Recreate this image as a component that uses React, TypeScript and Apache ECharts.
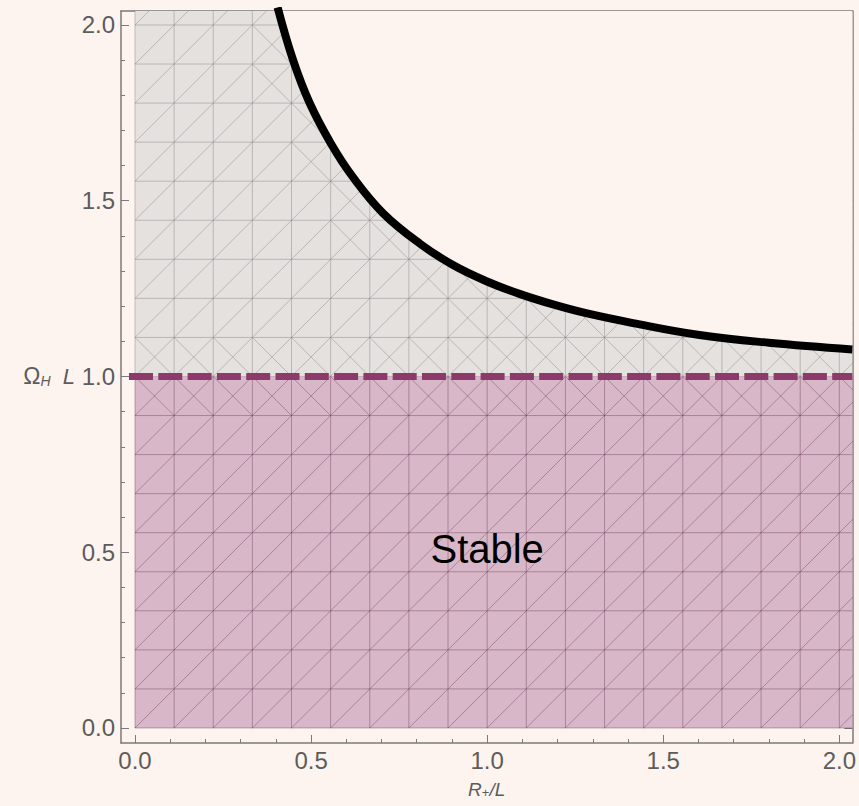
import React, { useEffect, useRef } from "react";
import * as echarts from "echarts";

// Boundary curve: horizon radius R+/L against critical Ω_H L
const curveR = [0.405, 0.449, 0.496, 0.558, 0.619, 0.704, 0.809, 0.903, 0.998, 1.092, 1.187, 1.281, 1.414, 1.603, 1.8, 2.037];
const curveOmega = [2.05, 1.9, 1.778, 1.66, 1.567, 1.465, 1.378, 1.317, 1.271, 1.235, 1.205, 1.18, 1.152, 1.118, 1.096, 1.077];

// Ω_H L = 1 bound
const boundOmega = 1.0;
const boundStartR = -0.017;

const xMajorTicks = [0, 0.5, 1, 1.5, 2];
const xMinorTicks = [0.1, 0.2, 0.3, 0.4, 0.6, 0.7, 0.8, 0.9, 1.1, 1.2, 1.3, 1.4, 1.6, 1.7, 1.8, 1.9];
const yMajorTicks = [0, 0.5, 1, 1.5, 2];
const yMinorTicks = [0.1, 0.2, 0.3, 0.4, 0.6, 0.7, 0.8, 0.9, 1.1, 1.2, 1.3, 1.4, 1.6, 1.7, 1.8, 1.9];

const stableLabel = { r: 1.0, omega: 0.51, text: "Stable" };

const X_RANGE = [-0.0397, 2.0369];
const Y_RANGE = [-0.0427, 2.0398];
const MESH_STEP = 1 / 9;

const BG = "#fdf4ef";
const GRAY_FILL = "#e4e1df";
const PINK_FILL = "#d8b8c8";
const GRAY_MESH = "rgba(120,112,112,0.38)";
const PINK_MESH = "rgba(95,45,75,0.38)";
const BOUND_COLOR = "#8b3a6b";
const FRAME = "#7a7a7a";
const LABEL_COLOR = "#5c5c5c";
const FONT = "'Liberation Sans', Arial, sans-serif";

function curveAt(x: number): number {
  if (x < curveR[0]) return Infinity;
  for (let i = 1; i < curveR.length; i++) {
    if (x <= curveR[i]) {
      const t = (x - curveR[i - 1]) / (curveR[i] - curveR[i - 1]);
      return curveOmega[i - 1] + t * (curveOmega[i] - curveOmega[i - 1]);
    }
  }
  return curveOmega[curveOmega.length - 1];
}

// Triangulated mesh segments [x1, y1, x2, y2] for the two shaded regions
function buildMesh() {
  const gray: number[][] = [];
  const pink: number[][] = [];
  const d = MESH_STEP;
  const xMax = X_RANGE[1];
  const yMax = Y_RANGE[1];
  const nx = Math.ceil(xMax / d);
  const ny = Math.ceil(yMax / d);
  for (let i = 0; i <= nx; i++) {
    const x = i * d;
    if (x > xMax) break;
    pink.push([x, 0, x, boundOmega]);
    gray.push([x, boundOmega, x, yMax]);
  }
  for (let j = 0; j <= ny; j++) {
    const y = j * d;
    if (y > yMax) break;
    if (j < 9) pink.push([0, y, xMax, y]);
    else gray.push([0, y, xMax, y]);
  }
  for (let i = 0; i < nx; i++) {
    for (let j = 0; j < ny; j++) {
      const x0 = i * d;
      const y0 = j * d;
      const inPink = j < 9;
      const target = inPink ? pink : gray;
      target.push([x0, y0, x0 + d, y0 + d]);
      let cross = j === 8 || j === 9;
      if (!inPink) {
        const cLeft = curveAt(x0);
        const cRight = curveAt(Math.min(x0 + d, xMax));
        if (y0 < cLeft && y0 + d > cRight - 0.6 * d) cross = true;
      }
      if (cross) target.push([x0, y0 + d, x0 + d, y0]);
    }
  }
  return { gray, pink };
}

function meshSeries(data: number[][], color: string) {
  return {
    type: "custom",
    silent: true,
    clip: true,
    encode: { x: [0, 2], y: [1, 3] },
    data,
    renderItem: (_p: any, api: any) => {
      const a = api.coord([api.value(0), api.value(1)]);
      const b = api.coord([api.value(2), api.value(3)]);
      return {
        type: "line",
        shape: { x1: a[0], y1: a[1], x2: b[0], y2: b[1] },
        style: { stroke: color, lineWidth: 1, fill: null },
      };
    },
  };
}

function xAxes(position: "bottom" | "top", labels: boolean) {
  return [
    {
      type: "value",
      position,
      min: X_RANGE[0],
      max: X_RANGE[1],
      axisLine: { show: true, onZero: false, lineStyle: { color: FRAME, width: 1.5 } },
      axisTick: { show: true, inside: true, length: 8, customValues: xMajorTicks, lineStyle: { color: FRAME, width: 1 } },
      axisLabel: {
        show: labels,
        customValues: xMajorTicks,
        formatter: (v: number) => v.toFixed(1),
        color: LABEL_COLOR,
        fontSize: 24,
        fontFamily: FONT,
        margin: 5,
      },
      splitLine: { show: false },
      ...(labels
        ? {
            name: "{i|R}{s|+}{i|/L}",
            nameLocation: "middle",
            nameGap: 37,
            nameTextStyle: {
              color: LABEL_COLOR,
              rich: {
                i: { fontSize: 19, fontStyle: "italic", fontFamily: FONT, color: LABEL_COLOR, lineHeight: 19 },
                s: { fontSize: 13, fontFamily: FONT, color: LABEL_COLOR, verticalAlign: "bottom", lineHeight: 6 },
              },
            },
          }
        : {}),
    },
    {
      type: "value",
      position,
      min: X_RANGE[0],
      max: X_RANGE[1],
      axisLine: { show: false, onZero: false },
      axisTick: { show: true, inside: true, length: 4, customValues: xMinorTicks, lineStyle: { color: FRAME, width: 1 } },
      axisLabel: { show: false },
      splitLine: { show: false },
    },
  ];
}

function yAxes(position: "left" | "right", labels: boolean) {
  return [
    {
      type: "value",
      position,
      min: Y_RANGE[0],
      max: Y_RANGE[1],
      axisLine: { show: true, onZero: false, lineStyle: { color: FRAME, width: 1.5 } },
      axisTick: { show: true, inside: true, length: 8, customValues: yMajorTicks, lineStyle: { color: FRAME, width: 1 } },
      axisLabel: {
        show: labels,
        customValues: yMajorTicks,
        formatter: (v: number) =>
          Math.abs(v - boundOmega) < 1e-9 ? "{o|Ω}{h|H}{l|  L} " + v.toFixed(1) : v.toFixed(1),
        color: LABEL_COLOR,
        fontSize: 24,
        fontFamily: FONT,
        lineHeight: 24,
        margin: 6,
        rich: {
          o: { fontSize: 23, fontFamily: FONT, color: LABEL_COLOR, lineHeight: 24 },
          h: { fontSize: 14, fontStyle: "italic", fontFamily: FONT, color: LABEL_COLOR, verticalAlign: "bottom", lineHeight: 6 },
          l: { fontSize: 22, fontStyle: "italic", fontFamily: FONT, color: LABEL_COLOR, lineHeight: 24 },
        },
      },
      splitLine: { show: false },
    },
    {
      type: "value",
      position,
      min: Y_RANGE[0],
      max: Y_RANGE[1],
      axisLine: { show: false, onZero: false },
      axisTick: { show: true, inside: true, length: 4, customValues: yMinorTicks, lineStyle: { color: FRAME, width: 1 } },
      axisLabel: { show: false },
      splitLine: { show: false },
    },
  ];
}

export default function App() {
  const ref = useRef<HTMLDivElement>(null);

  useEffect(() => {
    if (!ref.current) return;
    const chart = echarts.init(ref.current, null, { renderer: "svg" });
    const mesh = buildMesh();
    const regions = [
      [0, 0, X_RANGE[1], boundOmega],
      [0, boundOmega, X_RANGE[1], Y_RANGE[1]],
    ];
    const regionColors = [PINK_FILL, GRAY_FILL];

    chart.setOption({
      animation: false,
      backgroundColor: BG,
      grid: { left: 121, top: 11, width: 732, height: 732, containLabel: false },
      xAxis: [...xAxes("bottom", true), ...xAxes("top", false)],
      yAxis: [...yAxes("left", true), ...yAxes("right", false)],
      series: [
        {
          type: "custom",
          silent: true,
          clip: true,
          encode: { x: [0, 2], y: [1, 3] },
          data: regions,
          renderItem: (p: any, api: any) => {
            const a = api.coord([api.value(0), api.value(1)]);
            const b = api.coord([api.value(2), api.value(3)]);
            return {
              type: "rect",
              shape: { x: a[0], y: b[1], width: b[0] - a[0], height: a[1] - b[1] },
              style: { fill: regionColors[p.dataIndex] },
            };
          },
        },
        meshSeries(mesh.pink, PINK_MESH),
        meshSeries(mesh.gray, GRAY_MESH),
        {
          type: "line",
          data: curveR.map((r, i) => [r, curveOmega[i]]),
          smooth: 0.4,
          showSymbol: false,
          clip: true,
          silent: true,
          lineStyle: { color: "#000", width: 8 },
          areaStyle: { color: BG, opacity: 1, origin: "end" },
        },
        {
          type: "line",
          data: [
            [boundStartR, boundOmega],
            [X_RANGE[1], boundOmega],
          ],
          showSymbol: false,
          clip: true,
          silent: true,
          lineStyle: { color: BOUND_COLOR, width: 7, type: [24, 5.3], cap: "butt" },
        },
        {
          type: "scatter",
          data: [[stableLabel.r, stableLabel.omega]],
          symbolSize: 1,
          itemStyle: { color: "rgba(0,0,0,0)" },
          silent: true,
          label: {
            show: true,
            position: "inside",
            formatter: stableLabel.text,
            fontSize: 40,
            fontFamily: FONT,
            color: "#000",
            opacity: 1,
          },
        },
      ],
    });
    return () => chart.dispose();
  }, []);

  return (
    <div
      ref={ref}
      style={{ position: "fixed", left: 0, top: 0, width: 859, height: 806 }}
    />
  );
}
